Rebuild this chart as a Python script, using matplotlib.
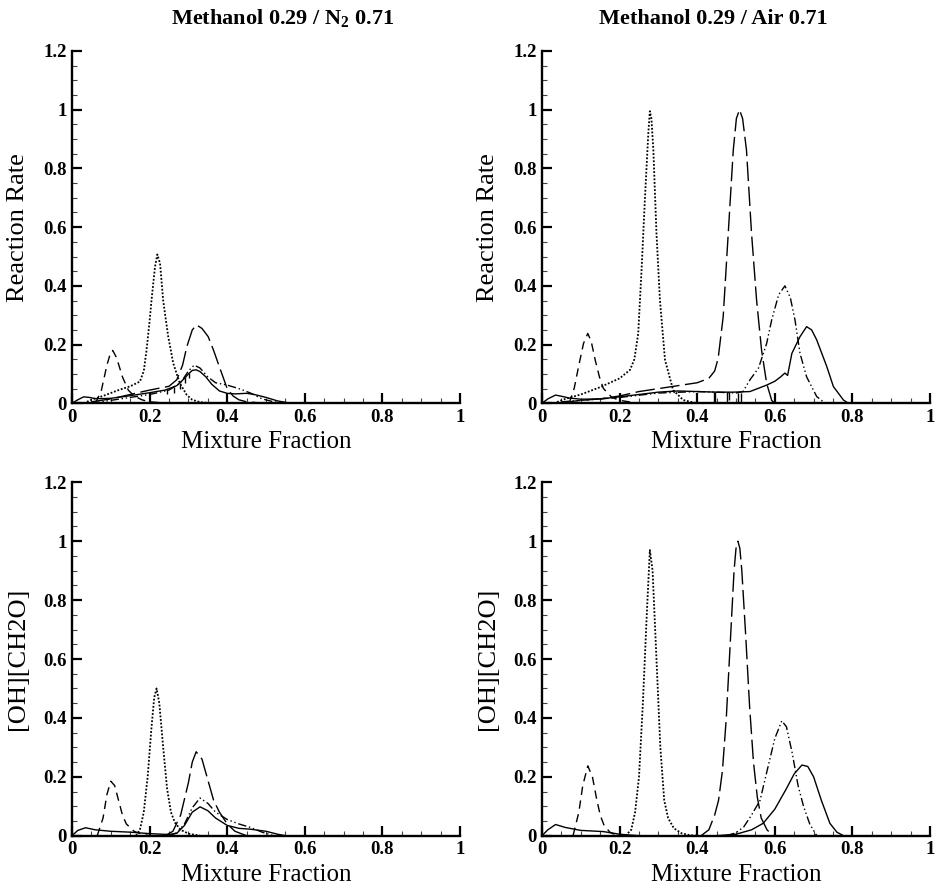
import matplotlib
matplotlib.use('Agg')
import matplotlib.pyplot as plt
from matplotlib.ticker import MultipleLocator

plt.rcParams['font.family'] = 'Liberation Serif'
plt.rcParams['mathtext.fontset'] = 'custom'
plt.rcParams['mathtext.rm'] = 'Liberation Serif:bold'

# --- Methanol / N2, reaction rate ---
n2_rr_solid_x = [0, 0.015, 0.03, 0.045, 0.06, 0.08, 0.1, 0.13, 0.16, 0.2, 0.24, 0.27, 0.29, 0.30, 0.31, 0.32,
                 0.33, 0.345, 0.36, 0.38, 0.40, 0.42, 0.45, 0.47, 0.50, 0.53, 0.56, 0.6]
n2_rr_solid_y = [0, 0.012, 0.022, 0.02, 0.016, 0.016, 0.017, 0.022, 0.028, 0.036, 0.045, 0.06, 0.085, 0.1, 0.112,
                 0.114, 0.108, 0.09, 0.065, 0.042, 0.034, 0.032, 0.034, 0.03, 0.02, 0.008, 0.001, 0]
n2_rr_spike_x = [0.245, 0.262, 0.278, 0.29, 0.302]
n2_rr_spike_lo = [0.03, 0.035, 0.05, 0.07, 0.085]
n2_rr_spike_hi = [0.048, 0.054, 0.068, 0.088, 0.104]
n2_rr_dot_x = [0.03, 0.05, 0.08, 0.12, 0.15, 0.175, 0.185, 0.192, 0.2, 0.205, 0.214, 0.22, 0.227, 0.235, 0.248,
               0.261, 0.278, 0.296, 0.31, 0.33, 0.36]
n2_rr_dot_y = [0, 0.012, 0.025, 0.045, 0.058, 0.074, 0.11, 0.18, 0.28, 0.352, 0.466, 0.507, 0.476, 0.35, 0.227,
               0.136, 0.068, 0.028, 0.012, 0.004, 0]
n2_rr_long_x = [0.05, 0.1, 0.15, 0.2, 0.25, 0.27, 0.285, 0.296, 0.31, 0.321, 0.335, 0.351, 0.365, 0.381, 0.4,
                0.415, 0.43, 0.45, 0.5]
n2_rr_long_y = [0.005, 0.015, 0.03, 0.045, 0.058, 0.08, 0.13, 0.193, 0.25, 0.267, 0.255, 0.227, 0.18, 0.12, 0.05,
                0.025, 0.012, 0.005, 0]
n2_rr_short_x = [0.06, 0.075, 0.09, 0.1, 0.105, 0.115, 0.13, 0.145, 0.16, 0.18, 0.2, 0.25]
n2_rr_short_y = [0, 0.04, 0.13, 0.175, 0.18, 0.155, 0.09, 0.045, 0.025, 0.012, 0.005, 0]
n2_rr_dd_x = [0.05, 0.1, 0.15, 0.2, 0.25, 0.28, 0.3, 0.315, 0.33, 0.35, 0.37, 0.4, 0.43, 0.46, 0.49, 0.52, 0.55]
n2_rr_dd_y = [0, 0.01, 0.02, 0.03, 0.045, 0.07, 0.11, 0.13, 0.12, 0.09, 0.07, 0.062, 0.05, 0.035, 0.015, 0.005, 0]

# --- Methanol / Air, reaction rate ---
air_rr_solid_x = [0, 0.015, 0.035, 0.05, 0.07, 0.1, 0.15, 0.2, 0.25, 0.3, 0.35, 0.4, 0.45, 0.493, 0.536, 0.579,
                  0.6, 0.615, 0.626, 0.633, 0.644, 0.665, 0.682, 0.695, 0.708, 0.734, 0.751, 0.777, 0.79]
air_rr_solid_y = [0, 0.015, 0.028, 0.024, 0.018, 0.014, 0.015, 0.022, 0.03, 0.038, 0.042, 0.04, 0.038, 0.038,
                  0.04, 0.062, 0.075, 0.09, 0.103, 0.095, 0.17, 0.227, 0.261, 0.25, 0.216, 0.125, 0.057, 0.011, 0]
air_rr_spike_x = [0.443, 0.447, 0.478, 0.483, 0.506, 0.513]
air_rr_spike_lo = [0, 0, 0.005, 0.01, 0, 0]
air_rr_spike_hi = [0.038, 0.038, 0.038, 0.038, 0.036, 0.036]
air_rr_dot_x = [0.03, 0.06, 0.1, 0.15, 0.2, 0.227, 0.238, 0.248, 0.257, 0.265, 0.274, 0.278, 0.282, 0.287, 0.295,
                0.304, 0.317, 0.338, 0.364, 0.4]
air_rr_dot_y = [0, 0.015, 0.03, 0.055, 0.085, 0.114, 0.15, 0.238, 0.465, 0.69, 0.92, 0.995, 0.97, 0.863, 0.58,
                0.35, 0.148, 0.045, 0.011, 0]
air_rr_long_x = [0.05, 0.1, 0.15, 0.2, 0.25, 0.3, 0.35, 0.4, 0.43, 0.445, 0.454, 0.467, 0.48, 0.493, 0.501, 0.509,
                 0.517, 0.527, 0.54, 0.553, 0.566, 0.579, 0.592, 0.6]
air_rr_long_y = [0.002, 0.01, 0.015, 0.025, 0.04, 0.05, 0.06, 0.07, 0.085, 0.11, 0.153, 0.295, 0.579, 0.863, 0.97,
                 1.0, 0.97, 0.863, 0.58, 0.352, 0.18, 0.068, 0.01, 0]
air_rr_short_x = [0.07, 0.083, 0.095, 0.107, 0.118, 0.127, 0.137, 0.148, 0.158, 0.18, 0.2, 0.25]
air_rr_short_y = [0, 0.051, 0.13, 0.204, 0.238, 0.21, 0.148, 0.09, 0.051, 0.02, 0.01, 0]
air_rr_dd_x = [0.05, 0.1, 0.2, 0.3, 0.4, 0.45, 0.5, 0.518, 0.536, 0.558, 0.579, 0.592, 0.61, 0.626, 0.64, 0.652,
               0.665, 0.682, 0.708, 0.725]
air_rr_dd_y = [0.005, 0.01, 0.02, 0.035, 0.04, 0.038, 0.035, 0.04, 0.08, 0.12, 0.204, 0.284, 0.37, 0.40, 0.36,
               0.284, 0.17, 0.09, 0.023, 0.005]

# --- Methanol / N2, [OH][CH2O] ---
n2_oh_solid_x = [0, 0.015, 0.035, 0.06, 0.1, 0.15, 0.2, 0.25, 0.27, 0.29, 0.31, 0.33, 0.35, 0.37, 0.4, 0.43, 0.46,
                 0.5, 0.53, 0.55]
n2_oh_solid_y = [0, 0.018, 0.027, 0.02, 0.015, 0.012, 0.007, 0.004, 0.008, 0.035, 0.08, 0.098, 0.085, 0.06, 0.035,
                 0.025, 0.022, 0.015, 0.005, 0]
n2_oh_dot_x = [0.165, 0.175, 0.185, 0.195, 0.205, 0.212, 0.218, 0.225, 0.235, 0.245, 0.255, 0.265, 0.28, 0.3, 0.33]
n2_oh_dot_y = [0, 0.02, 0.08, 0.2, 0.37, 0.47, 0.5, 0.45, 0.3, 0.16, 0.08, 0.045, 0.02, 0.007, 0]
n2_oh_long_x = [0.24, 0.26, 0.28, 0.3, 0.31, 0.32, 0.335, 0.35, 0.365, 0.38, 0.4, 0.42, 0.45]
n2_oh_long_y = [0, 0.015, 0.07, 0.18, 0.25, 0.285, 0.26, 0.19, 0.12, 0.08, 0.04, 0.015, 0]
n2_oh_short_x = [0.065, 0.08, 0.09, 0.1, 0.11, 0.12, 0.13, 0.14, 0.16, 0.18, 0.2]
n2_oh_short_y = [0, 0.06, 0.14, 0.185, 0.17, 0.12, 0.07, 0.04, 0.015, 0.005, 0]
n2_oh_dd_x = [0.25, 0.27, 0.29, 0.31, 0.33, 0.35, 0.37, 0.4, 0.43, 0.46, 0.49, 0.52]
n2_oh_dd_y = [0, 0.01, 0.04, 0.095, 0.128, 0.11, 0.08, 0.055, 0.04, 0.028, 0.012, 0]

# --- Methanol / Air, [OH][CH2O] ---
air_oh_solid_x = [0, 0.015, 0.035, 0.06, 0.1, 0.158, 0.2, 0.25, 0.45, 0.5, 0.54, 0.57, 0.6, 0.63, 0.65, 0.67,
                  0.685, 0.7, 0.72, 0.742, 0.76, 0.777]
air_oh_solid_y = [0, 0.02, 0.038, 0.028, 0.018, 0.014, 0.005, 0, 0, 0.005, 0.02, 0.042, 0.09, 0.16, 0.21, 0.24,
                  0.235, 0.2, 0.12, 0.042, 0.012, 0]
air_oh_dot_x = [0.215, 0.23, 0.24, 0.25, 0.26, 0.27, 0.278, 0.285, 0.295, 0.305, 0.315, 0.325, 0.34, 0.36, 0.38,
                0.4]
air_oh_dot_y = [0, 0.02, 0.08, 0.2, 0.45, 0.75, 0.97, 0.9, 0.6, 0.3, 0.12, 0.06, 0.025, 0.008, 0.002, 0]
air_oh_long_x = [0.41, 0.43, 0.445, 0.455, 0.465, 0.475, 0.485, 0.495, 0.5, 0.505, 0.51, 0.515, 0.525, 0.535,
                 0.545, 0.555, 0.565, 0.58, 0.595]
air_oh_long_y = [0, 0.02, 0.07, 0.12, 0.22, 0.4, 0.65, 0.9, 0.975, 1.0, 0.975, 0.9, 0.68, 0.44, 0.25, 0.13, 0.06,
                 0.02, 0]
air_oh_short_x = [0.08, 0.095, 0.105, 0.118, 0.13, 0.14, 0.15, 0.16, 0.175, 0.19, 0.21]
air_oh_short_y = [0, 0.08, 0.17, 0.237, 0.2, 0.13, 0.07, 0.035, 0.012, 0.003, 0]
air_oh_dd_x = [0.475, 0.5, 0.52, 0.54, 0.562, 0.58, 0.6, 0.618, 0.63, 0.645, 0.66, 0.674, 0.69, 0.708]
air_oh_dd_y = [0, 0.01, 0.03, 0.07, 0.12, 0.22, 0.33, 0.39, 0.37, 0.28, 0.17, 0.1, 0.04, 0]

titles = ['Methanol 0.29 / N$_2$ 0.71', 'Methanol 0.29 / Air 0.71']
ylabels = ['Reaction Rate', '[OH][CH2O]']
xlabel = 'Mixture Fraction'

# line styles shared by every panel: solid, dotted, long dash, short dash, dash-dot-dot
styles = {
    'solid': dict(linestyle='-', lw=1.0),
    'dot': dict(linestyle=(0, (1, 1)), lw=1.3),
    'long': dict(linestyle=(0, (14, 4)), lw=1.0),
    'short': dict(linestyle=(0, (6, 4)), lw=1.0),
    'dd': dict(linestyle=(0, (6, 2, 1, 2, 1, 2)), lw=1.0),
}

panels = [
    [(n2_rr_solid_x, n2_rr_solid_y, 'solid'), (n2_rr_dot_x, n2_rr_dot_y, 'dot'), (n2_rr_long_x, n2_rr_long_y, 'long'),
     (n2_rr_short_x, n2_rr_short_y, 'short'), (n2_rr_dd_x, n2_rr_dd_y, 'dd')],
    [(air_rr_solid_x, air_rr_solid_y, 'solid'), (air_rr_dot_x, air_rr_dot_y, 'dot'),
     (air_rr_long_x, air_rr_long_y, 'long'), (air_rr_short_x, air_rr_short_y, 'short'),
     (air_rr_dd_x, air_rr_dd_y, 'dd')],
    [(n2_oh_solid_x, n2_oh_solid_y, 'solid'), (n2_oh_dot_x, n2_oh_dot_y, 'dot'), (n2_oh_long_x, n2_oh_long_y, 'long'),
     (n2_oh_short_x, n2_oh_short_y, 'short'), (n2_oh_dd_x, n2_oh_dd_y, 'dd')],
    [(air_oh_solid_x, air_oh_solid_y, 'solid'), (air_oh_dot_x, air_oh_dot_y, 'dot'),
     (air_oh_long_x, air_oh_long_y, 'long'), (air_oh_short_x, air_oh_short_y, 'short'),
     (air_oh_dd_x, air_oh_dd_y, 'dd')],
]
# jagged spikes on the reaction-rate solutions
spikes = [(n2_rr_spike_x, n2_rr_spike_lo, n2_rr_spike_hi), (air_rr_spike_x, air_rr_spike_lo, air_rr_spike_hi),
          None, None]

W, H = 938, 888
fig = plt.figure(figsize=(W / 100, H / 100), dpi=100)

# axes boxes in pixels: left, right, bottom(y=0), top(y=1.2)
boxes = [(72, 460, 403.3, 51), (542, 930, 403.3, 51), (72, 460, 835.7, 482.3), (542, 930, 835.7, 482.3)]

for i, (box, curves) in enumerate(zip(boxes, panels)):
    l, r, b, t = box
    ax = fig.add_axes([l / W, 1 - b / H, (r - l) / W, (b - t) / H])
    for x, y, st in curves:
        ax.plot(x, y, color='black', **styles[st])
    if spikes[i] is not None:
        sx, slo, shi = spikes[i]
        ax.vlines(sx, slo, shi, color='black', lw=1.0)
    ax.set_xlim(0, 1)
    ax.set_ylim(0, 1.2)
    ax.patch.set_alpha(0)
    for s in ['top', 'right']:
        ax.spines[s].set_visible(False)
    for s in ['left', 'bottom']:
        ax.spines[s].set_linewidth(1.7)
    ax.xaxis.set_minor_locator(MultipleLocator(0.05))
    ax.yaxis.set_minor_locator(MultipleLocator(0.05))
    ax.set_xticks([0, 0.2, 0.4, 0.6, 0.8, 1.0])
    ax.set_xticklabels(['0', '0.2', '0.4', '0.6', '0.8', '1'])
    ax.set_yticks([0, 0.2, 0.4, 0.6, 0.8, 1.0, 1.2])
    ax.set_yticklabels(['0', '0.2', '0.4', '0.6', '0.8', '1', '1.2'])
    ax.tick_params(which='major', direction='in', length=7, width=1.6, labelsize=13.5, pad=4)
    ax.tick_params(which='minor', direction='in', length=3.8, width=0.8, color='#444444')
    for lab in ax.get_xticklabels() + ax.get_yticklabels():
        lab.set_fontweight('bold')

    cx = (l + r) / 2
    fig.text(cx / W, 1 - (b + 39) / H, xlabel, fontsize=18, ha='center', va='center')
    fig.text((l - 54) / W, 1 - ((b + t) / 2) / H, ylabels[i // 2], fontsize=19, rotation=90,
             ha='center', va='center')

fig.text(283 / W, 1 - 19 / H, titles[0], fontsize=16, fontweight='bold', ha='center', va='center')
fig.text(713 / W, 1 - 19 / H, titles[1], fontsize=16, fontweight='bold', ha='center', va='center')

fig.savefig('out.png', dpi=100)
